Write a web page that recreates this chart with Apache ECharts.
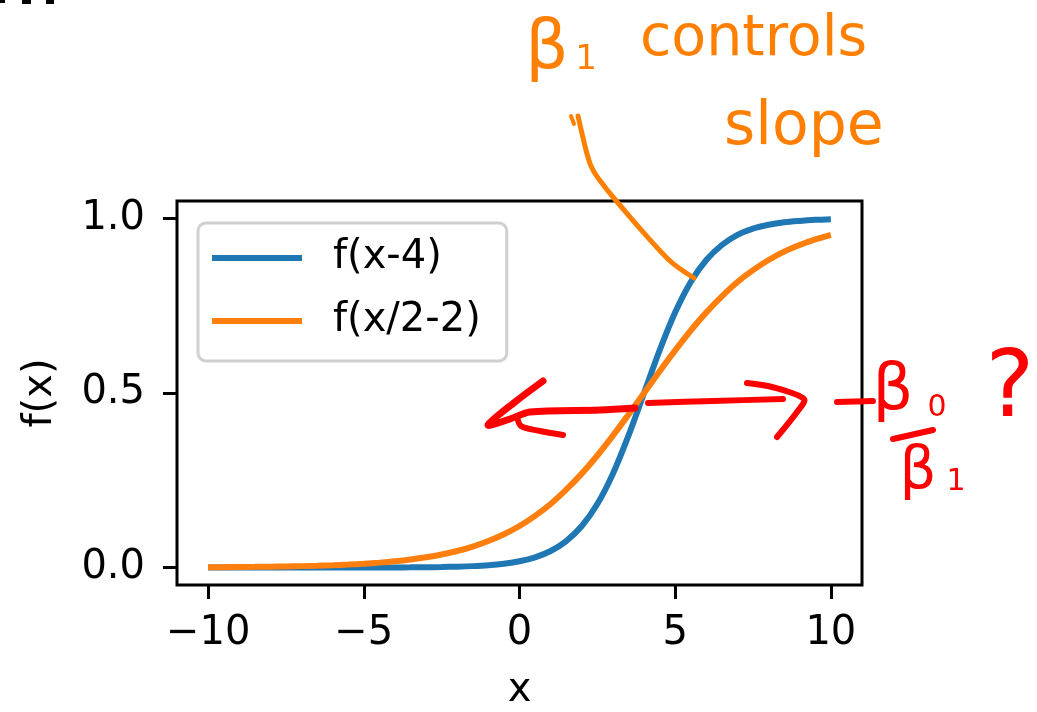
<!DOCTYPE html>
<html>
<head>
<meta charset="utf-8">
<script src="https://cdn.jsdelivr.net/npm/echarts@6/dist/echarts.min.js"></script>
<style>html,body{margin:0;padding:0;background:#fff;}#c{width:1037px;height:712px;}</style>
</head>
<body>
<div id="c"></div>
<script>
// x sample positions
const xValues = [-10,-9.5,-9,-8.5,-8,-7.5,-7,-6.5,-6,-5.5,-5,-4.5,-4,-3.5,-3,-2.5,-2,-1.5,-1,-0.5,0,0.5,1,1.5,2,2.5,3,3.5,4,4.5,5,5.5,6,6.5,7,7.5,8,8.5,9,9.5,10];
// f(x-4)
const blueValues = [0.000001,0.000001,0.000002,0.000004,0.000006,0.00001,0.000017,0.000028,0.000045,0.000075,0.000123,0.000203,0.000335,0.000553,0.000911,0.0015,0.00247,0.00407,0.00669,0.011,0.018,0.0293,0.0474,0.0759,0.119,0.182,0.269,0.378,0.5,0.622,0.731,0.818,0.881,0.924,0.953,0.971,0.982,0.989,0.993,0.996,0.998];
// f(x/2-2)
const orangeValues = [0.000911,0.00117,0.0015,0.00193,0.00247,0.00317,0.00407,0.00522,0.00669,0.00858,0.011,0.0141,0.018,0.023,0.0293,0.0373,0.0474,0.0601,0.0759,0.0953,0.119,0.148,0.182,0.223,0.269,0.321,0.378,0.438,0.5,0.562,0.622,0.679,0.731,0.777,0.818,0.852,0.881,0.905,0.924,0.940,0.953];
const seriesNames = ['f(x-4)', 'f(x/2-2)'];
const xTicks = [-10,-5,0,5,10];
const yTicks = [0,0.5,1.0];

const FONT = 'DejaVu Sans';
const chart = echarts.init(document.getElementById('c'), null, {renderer:'canvas'});
const pair = (ys) => xValues.map((x,i)=>[x, ys[i]]);
const fmtX = v => v < 0 ? '\u2212' + Math.abs(v) : String(v);

const orange = '#ff7f00', red = '#ff0000';
const stroke = (pts, color, w) => ({type:'polyline', shape:{points:pts, smooth:0.3}, style:{stroke:color, lineWidth:w, lineCap:'round', lineJoin:'round', fill:null}, z:100});
const txt = (s, x, y, size, color, align) => ({type:'text', x:x, y:y, style:{text:s, fontFamily:FONT, fontSize:size, fill:color, align:align||'center', verticalAlign:'middle'}, z:100});

chart.setOption({
  animation:false,
  backgroundColor:'#fff',
  grid:{left:177, right:175, top:201, bottom:127, show:true, borderColor:'#000', borderWidth:3, containLabel:false, outerBoundsMode:'none'},
  legend:{
    left:198, top:223, orient:'vertical', icon:'rect', itemWidth:90, itemHeight:6, itemGap:23,
    padding:[15,26,20,14], borderColor:'#d0d0d0', borderWidth:3, borderRadius:8, backgroundColor:'rgba(255,255,255,0.8)',
    textStyle:{fontFamily:FONT, fontSize:40, lineHeight:40, color:'#000', padding:[0,0,0,26]},
    data: seriesNames
  },
  xAxis:{
    type:'value', min:-11, max:11,
    name:'x', nameLocation:'middle', nameGap:86,
    nameTextStyle:{fontFamily:FONT, fontSize:40, color:'#000'},
    axisLine:{show:false, onZero:false},
    axisTick:{show:true, customValues:xTicks, length:14, lineStyle:{color:'#000', width:3}},
    axisLabel:{customValues:xTicks, formatter:fmtX, fontFamily:FONT, fontSize:40, color:'#000', margin:29},
    splitLine:{show:false}
  },
  yAxis:{
    type:'value', min:-0.05, max:1.05,
    name:'f(x)', nameLocation:'middle', nameGap:116, nameRotate:90,
    nameTextStyle:{fontFamily:FONT, fontSize:40, color:'#000'},
    axisLine:{show:false, onZero:false},
    axisTick:{show:true, customValues:yTicks, length:14, lineStyle:{color:'#000', width:3}},
    axisLabel:{customValues:yTicks, formatter:v=>v.toFixed(1), fontFamily:FONT, fontSize:40, color:'#000', margin:32},
    splitLine:{show:false}
  },
  series:[
    {name:seriesNames[0], type:'line', data:pair(blueValues), showSymbol:false, symbol:'none', smooth:0.3, lineStyle:{color:'#1f77b4', width:6}, itemStyle:{color:'#1f77b4'}},
    {name:seriesNames[1], type:'line', data:pair(orangeValues), showSymbol:false, symbol:'none', smooth:0.3, lineStyle:{color:'#ff7f0e', width:6}, itemStyle:{color:'#ff7f0e'}}
  ],
  graphic:[
    // cropped marks at top-left
    {type:'rect', shape:{x:0,y:0,width:5,height:3}, style:{fill:'#000'}},
    {type:'rect', shape:{x:22,y:0,width:9,height:4}, style:{fill:'#000'}},
    {type:'rect', shape:{x:46,y:0,width:8,height:4}, style:{fill:'#000'}},
    // orange handwriting
    txt('\u03b2', 547, 50, 68, orange),
    txt('1', 586, 60, 34, orange),
    txt('controls', 640, 40, 57, orange, 'left'),
    txt('slope', 724, 128, 60, orange, 'left'),
    stroke([[571,116],[574,124]], orange, 4),
    stroke([[578,116],[586,150],[591,166],[598,178],[618,203],[669,260],[694,278]], orange, 5),
    // red arrows
    stroke([[543,381],[515,402],[488,425],[510,419],[530,412],[600,410],[635,408]], red, 7),
    stroke([[517,416],[521,426],[540,431],[563,435]], red, 6),
    stroke([[648,403],[713,401],[783,399]], red, 6),
    stroke([[747,383],[772,387],[804,399],[797,412],[777,437]], red, 6),
    // red -β0/β1 ?
    stroke([[837,402],[873,401]], red, 6),
    txt('\u03b2', 893, 392, 64, red),
    txt('0', 937, 408, 30, red),
    stroke([[893,439],[933,430]], red, 6),
    txt('\u03b2', 918, 473, 58, red),
    txt('1', 956, 482, 30, red),
    txt('?', 1010, 392, 92, red)
  ]
});
</script>
</body>
</html>
